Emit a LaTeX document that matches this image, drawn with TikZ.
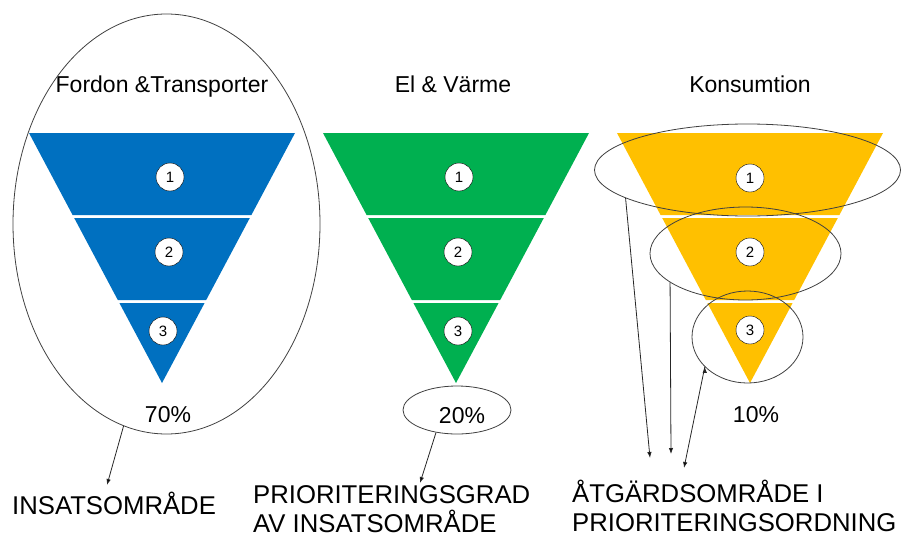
\documentclass[tikz,border=0pt]{standalone}
\usepackage{fontspec}
\setmainfont{Liberation Sans}
\usetikzlibrary{positioning,arrows.meta,shapes}

\definecolor{fblue}{HTML}{0070C0}
\definecolor{fgreen}{HTML}{00B050}
\definecolor{fyellow}{HTML}{FFC000}
\definecolor{ringgray}{HTML}{404040}

\begin{document}
\begin{tikzpicture}[x=1pt,y=-1pt,
    num/.style={circle,draw,fill=white,minimum size=28pt,inner sep=0pt,font=\fontsize{15}{15}\selectfont},
    head/.style={anchor=base,font=\fontsize{23}{27}\selectfont},
    pct/.style={font=\fontsize{23}{27}\selectfont},
    big/.style={anchor=base west,align=left,inner sep=0pt,font=\fontsize{25.7}{29}\selectfont},
    ring/.style={ellipse,draw=ringgray,line width=0.8pt,inner sep=0pt},
    pointer/.style={draw=black!85,line width=0.8pt,-{Latex[length=6pt,width=4.5pt]}}]
    \useasboundingbox (0,0) rectangle (901,538);

    % funnels
    \foreach \cx/\col in {162/fblue,456/fgreen,750/fyellow} {
        \fill[\col] (\cx-133,133) -- (\cx+133,133) -- (\cx+89.4,215) -- (\cx-89.4,215) -- cycle;
        \fill[\col] (\cx-87.8,218) -- (\cx+87.8,218) -- (\cx+44.2,300) -- (\cx-44.2,300) -- cycle;
        \fill[\col] (\cx-42.6,303) -- (\cx+42.6,303) -- (\cx,383) -- cycle;
    }

    % headings
    \node[head] (tfordon) at (162,92) {Fordon \&Transporter};
    \node[head] (tel) at (453,92) {El \& Värme};
    \node[head] (tkons) at (750,92) {Konsumtion};

    % numbered steps
    \node[num] (b1) at (170,177) {1};
    \node[num] (b2) at (169,252) {2};
    \node[num] (b3) at (163,331) {3};
    \node[num] (g1) at (459,177) {1};
    \node[num] (g2) at (458,252) {2};
    \node[num] (g3) at (458,331) {3};
    \node[num] (y1) at (750,178) {1};
    \node[num] (y2) at (750,252) {2};
    \node[num] (y3) at (750,330) {3};

    % shares
    \node[pct] (p70) at (168,415) {70\%};
    \node[pct] (p20) at (462,416) {20\%};
    \node[pct] (p10) at (756,415) {10\%};

    % rings
    \node[ring,minimum width=307pt,minimum height=420pt] (rbig) at (166.5,224) {};
    \node[ring,minimum width=108pt,minimum height=48pt] (rpct) at (457,410) {};
    \node[ring,minimum width=306pt,minimum height=92pt] (ry1) at (747.5,170) {};
    \node[ring,minimum width=191pt,minimum height=93pt] (ry2) at (745.5,253.5) {};
    \node[ring,minimum width=111pt,minimum height=92pt] (ry3) at (747.5,337) {};

    % labels (base = last line)
    \node[big] (linsats) at (12,514) {INSATSOMRÅDE};
    \node[big] (lprio) at (253,532) {PRIORITERINGSGRAD\\AV INSATSOMRÅDE};
    \node[big] (latgard) at (572,531) {ÅTGÄRDSOMRÅDE I\\PRIORITERINGSORDNING};

    \coordinate (ainsats) at (107,485);
    \coordinate (aprio) at (420,483);
    \coordinate (aat1) at (650,458);
    \coordinate (aat2) at (671,454);
    \coordinate (aat3) at (684,468);

    \path[pointer]
        (rbig.258) edge (ainsats)
        (rpct.227) edge (aprio)
        (ry1.193) edge (aat1)
        (ry2.201) edge (aat2)
        (ry3.215) edge (aat3);
\end{tikzpicture}
\end{document}
